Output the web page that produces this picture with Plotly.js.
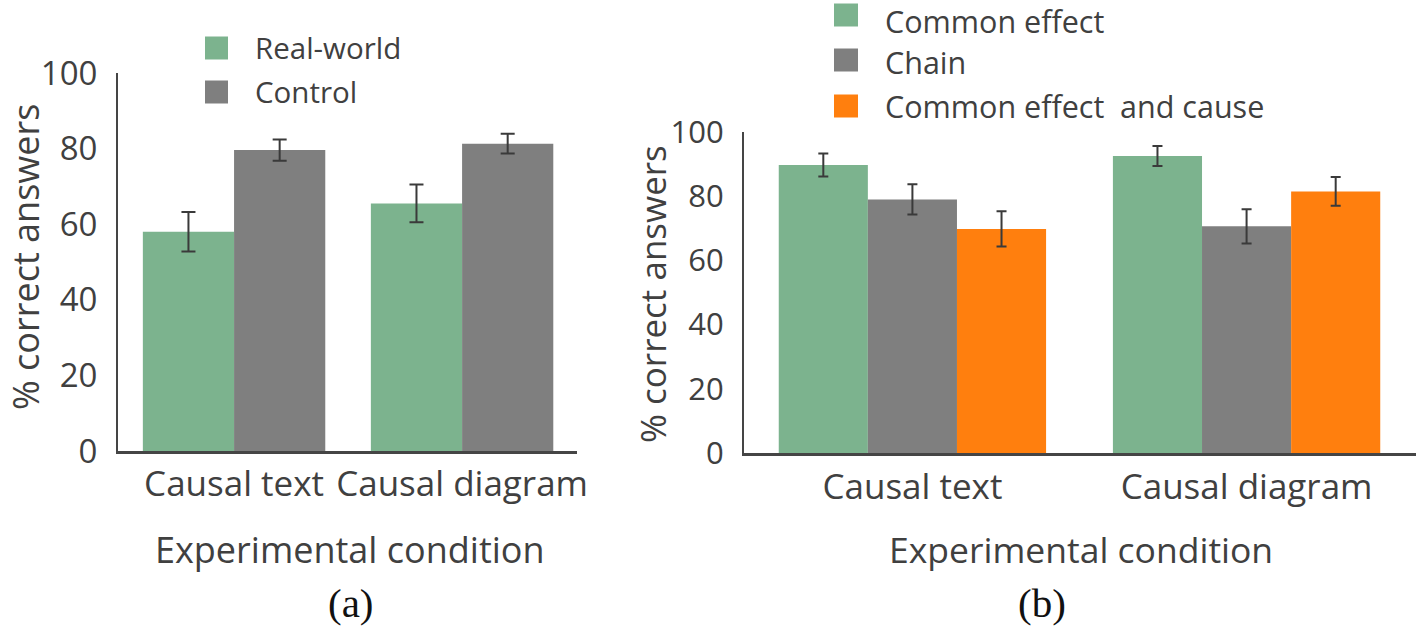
<!DOCTYPE html>
<html>
<head>
<meta charset="utf-8">
<script src="https://cdn.plot.ly/plotly-3.0.1.min.js"></script>
<style>html,body{margin:0;padding:0;background:#fff;}#chart{width:1416px;height:629px;}</style>
</head>
<body>
<div id="chart"></div>
<script>
// ---- Data ----
const categories = ["Causal text", "Causal diagram"];

// Panel (a)
const seriesA = ["Real-world", "Control"];
const realWorld = [58.0, 65.5];
const realWorldErr = [5.2, 5.0];
const control = [79.6, 81.3];
const controlErr = [2.8, 2.6];

// Panel (b)
const seriesB = ["Common effect", "Chain", "Common effect  and cause"];
const commonEffect = [89.7, 92.5];
const commonEffectErr = [3.6, 3.1];
const chain = [79.0, 70.6];
const chainErr = [4.7, 5.3];
const commonEffectCause = [69.8, 81.5];
const commonEffectCauseErr = [5.5, 4.5];

const yTicks = [0, 20, 40, 60, 80, 100];
const xTitle = "Experimental condition";
const yTitle = "% correct answers";
const panelLabels = ["(a)", "(b)"];

// ---- Style ----
const GREEN = "#7cb38e", GRAY = "#7f7f7f", ORANGE = "#ff7f0e";
const TXT = "#404040", AXC = "#454545", ERRC = "#3a3a3a";
const FONT = "Open Sans, sans-serif";
const W = 1416, H = 629;
const px = x => x / W, py = y => 1 - y / H;

function bar(name, y, err, color, xa, ya, cap) {
  return {
    type: "bar", name: name, x: categories, y: y,
    xaxis: xa, yaxis: ya, showlegend: false,
    marker: {color: color, line: {width: 0}},
    error_y: {type: "data", array: err, visible: true, color: ERRC, thickness: 2, width: cap},
    hoverinfo: "x+y"
  };
}

const data = [
  bar(seriesA[0], realWorld, realWorldErr, GREEN, "x", "y", 7),
  bar(seriesA[1], control, controlErr, GRAY, "x", "y", 7),
  bar(seriesB[0], commonEffect, commonEffectErr, GREEN, "x2", "y2", 5),
  bar(seriesB[1], chain, chainErr, GRAY, "x2", "y2", 5),
  bar(seriesB[2], commonEffectCause, commonEffectCauseErr, ORANGE, "x2", "y2", 5)
];

const xCommon = {
  type: "category", showgrid: false, zeroline: false, showline: true,
  linecolor: AXC, linewidth: 3, ticks: "",
  tickfont: {family: FONT, size: 35, color: TXT}, fixedrange: true
};
const yCommon = {
  range: [0, 100], tickvals: yTicks, showgrid: false, zeroline: false, showline: true,
  linecolor: AXC, linewidth: 2, ticks: "", fixedrange: true
};

const layout = {
  width: W, height: H, margin: {l: 0, r: 0, t: 0, b: 0},
  paper_bgcolor: "#fff", plot_bgcolor: "#fff",
  barmode: "group", bargap: 0.2, bargroupgap: 0,
  showlegend: false,
  xaxis: Object.assign({}, xCommon, {domain: [px(118), px(577)], range: [-0.509, 1.504], anchor: "y", ticklabelstandoff: 0}),
  yaxis: Object.assign({}, yCommon, {domain: [py(451), py(73)], anchor: "x", ticklabelstandoff: 12,
    tickfont: {family: FONT, size: 33, color: TXT}}),
  xaxis2: Object.assign({}, xCommon, {domain: [px(744), px(1416)], range: [-0.504, 1.507], anchor: "y2", ticklabelstandoff: 1}),
  yaxis2: Object.assign({}, yCommon, {domain: [py(453), py(132)], anchor: "x2", ticklabelstandoff: 12,
    tickfont: {family: FONT, size: 31, color: TXT}}),
  shapes: [],
  annotations: []
};

function ann(text, x, y, size, extra) {
  return Object.assign({
    text: text, xref: "paper", yref: "paper", x: px(x), y: py(y),
    showarrow: false, font: {family: FONT, size: size, color: TXT},
    xanchor: "center", yanchor: "middle"
  }, extra || {});
}

// Axis titles and panel labels
layout.annotations.push(ann(xTitle, 350, 549, 36));
layout.annotations.push(ann(xTitle, 1081, 549, 35.5));
layout.annotations.push(ann(yTitle, 25, 257, 36, {textangle: -90}));
layout.annotations.push(ann(yTitle, 652, 294, 35, {textangle: -90}));
const serifFont = {family: "Liberation Serif, Times New Roman, serif", size: 41, color: "#111"};
layout.annotations.push(ann(panelLabels[0], 351, 628, 41, {font: serifFont, yanchor: "bottom"}));
layout.annotations.push(ann(panelLabels[1], 1042, 628, 41, {font: serifFont, yanchor: "bottom"}));

// Legends (drawn as swatches + text)
function legendItem(name, color, x0, x1, yc, h, tx, ty, size) {
  layout.shapes.push({type: "rect", xref: "paper", yref: "paper",
    x0: px(x0), x1: px(x1), y0: py(yc + h / 2), y1: py(yc - h / 2),
    fillcolor: color, line: {width: 0}});
  layout.annotations.push(ann(name, tx, ty, size, {xanchor: "left"}));
}
const colorsA = [GREEN, GRAY];
const rowsA = [48, 92];
seriesA.forEach((s, i) => legendItem(s, colorsA[i], 205, 228, rowsA[i], 23, 253, rowsA[i], 29.5));
const colorsB = [GREEN, GRAY, ORANGE];
const rowsB = [15, 60, 106];
const textRowsB = [21, 62, 106];
seriesB.forEach((s, i) => legendItem(s, colorsB[i], 834, 858, rowsB[i], 23, 883, textRowsB[i], 30.5));

Plotly.newPlot("chart", data, layout, {staticPlot: true, displayModeBar: false});
</script>
</body>
</html>
